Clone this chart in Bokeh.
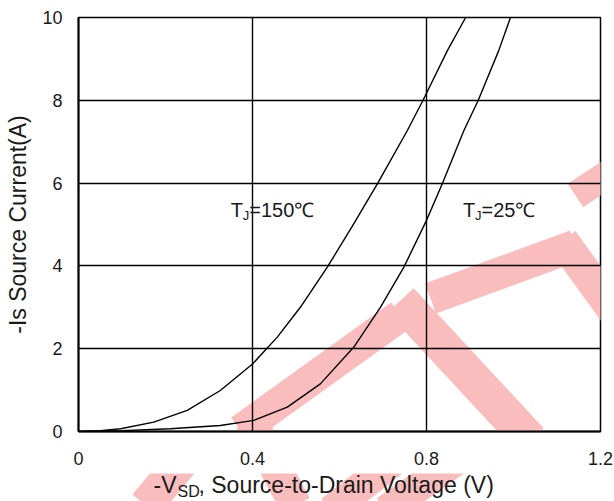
import math
from bokeh.plotting import figure
from bokeh.layouts import column
from bokeh.models import Range1d, FixedTicker, Label, PolyAnnotation
from bokeh.core.properties import value
from bokeh.embed import file_html
from bokeh.resources import INLINE

# ---- data ----
V_150 = [0, 0.05, 0.097, 0.173, 0.25, 0.326, 0.40, 0.457, 0.51, 0.572, 0.633, 0.687, 0.756, 0.792, 0.848, 0.89]
I_150 = [0, 0.02, 0.065, 0.225, 0.51, 0.99, 1.63, 2.28, 3.0, 3.97, 5.02, 5.98, 7.27, 8.0, 9.2, 10.0]

V_25 = [0, 0.10, 0.211, 0.326, 0.403, 0.48, 0.556, 0.633, 0.694, 0.748, 0.80, 0.836, 0.886, 0.919, 0.966, 0.993]
I_25 = [0, 0.02, 0.065, 0.145, 0.27, 0.59, 1.15, 2.04, 3.0, 3.97, 5.1, 5.98, 7.27, 8.0, 9.2, 10.0]

X_TICKS = [0, 0.4, 0.8, 1.2]
X_TICK_LABELS = ["0", "0.4", "0.8", "1.2"]
Y_TICKS = [0, 2, 4, 6, 8, 10]
Y_TICK_LABELS = ["0", "2", "4", "6", "8", "10"]

X_LABEL_PARTS = ["-V", "SD", " , Source-to-Drain Voltage (V)"]
Y_LABEL = "-Is Source Current(A)"

CURVE_LABEL_MAIN = ["T", "T"]
CURVE_LABEL_SUB = ["J", "J"]
CURVE_LABEL_REST = ["=150\u2103", "=25\u2103"]
CURVE_LABEL_X = [0.350, 0.884]
CURVE_LABEL_Y = [5.34, 5.34]

# watermark strokes (page pixels: x0, y0, x1, y1, width)
WATERMARK = [
    (145, 505, 195, 445, 34),
    (250, 420, 295, 505, 32),
    (240, 430, 400, 315, 32),
    (330, 510, 392, 462, 30),
    (385, 510, 470, 450, 30),
    (400, 300, 530, 440, 36),
    (430, 298, 575, 245, 32),
    (562, 240, 620, 320, 32),
    (575, 195, 620, 165, 28),
]

FONT = "Liberation Sans"
TEXT_COLOR = "#1a1a1a"
PINK = "#f9bdbd"
TOP_H = 473
BOTTOM_H = 28

p = figure(width=614, height=TOP_H, output_backend="svg", toolbar_location=None,
           x_range=Range1d(0, 1.2), y_range=Range1d(0, 10), title=None,
           min_border_left=78, min_border_right=14, min_border_top=17,
           min_border_bottom=42)
p.frame_align = False
p.background_fill_color = "white"
p.border_fill_color = "white"
p.outline_line_color = "black"
p.outline_line_width = 1.5
p.outline_line_alpha = 1.0


def band(x0, y0, x1, y1, w):
    dx, dy = x1 - x0, y1 - y0
    L = math.hypot(dx, dy)
    nx, ny = -dy / L * w / 2, dx / L * w / 2
    return [x0 + nx, x1 + nx, x1 - nx, x0 - nx], [y0 + ny, y1 + ny, y1 - ny, y0 - ny]


bands = [band(*s) for s in WATERMARK]
for xs, ys in bands:
    p.add_layout(PolyAnnotation(xs=xs, ys=ys, xs_units="canvas", ys_units="canvas",
                                fill_color=PINK, fill_alpha=1.0, line_alpha=0,
                                level="image"))

# grid
p.xgrid.ticker = FixedTicker(ticks=X_TICKS)
p.ygrid.ticker = FixedTicker(ticks=Y_TICKS)
for g in (p.xgrid, p.ygrid):
    g.grid_line_color = "black"
    g.grid_line_width = 1.4
    g.grid_line_alpha = 1.0

# axes
p.xaxis.ticker = FixedTicker(ticks=X_TICKS)
p.yaxis.ticker = FixedTicker(ticks=Y_TICKS)
p.xaxis.major_label_overrides = {t: s for t, s in zip(X_TICKS, X_TICK_LABELS)}
p.yaxis.major_label_overrides = {t: s for t, s in zip(Y_TICKS, Y_TICK_LABELS)}
for ax in (p.xaxis, p.yaxis):
    ax.axis_line_color = "black"
    ax.axis_line_width = 2
    ax.major_tick_out = 0
    ax.major_tick_in = 0
    ax.minor_tick_out = 0
    ax.minor_tick_in = 0
    ax.major_label_text_font = FONT
    ax.major_label_text_font_size = "18px"
    ax.major_label_text_color = TEXT_COLOR
p.xaxis.major_label_standoff = 20
p.yaxis.major_label_standoff = 16
p.xaxis.axis_label = None
p.yaxis.axis_label = Y_LABEL
p.yaxis.axis_label_text_font = FONT
p.yaxis.axis_label_text_font_size = "23px"
p.yaxis.axis_label_text_font_style = "normal"
p.yaxis.axis_label_text_color = TEXT_COLOR
p.yaxis.axis_label_standoff = 8

# curves
p.line(V_150, I_150, line_color="black", line_width=1.4)
p.line(V_25, I_25, line_color="black", line_width=1.4)

# curve labels
for main, sub, rest, lx, ly in zip(CURVE_LABEL_MAIN, CURVE_LABEL_SUB, CURVE_LABEL_REST,
                                   CURVE_LABEL_X, CURVE_LABEL_Y):
    p.add_layout(Label(x=lx, y=ly, text=main, text_font=FONT, text_font_size="20px",
                       text_color=TEXT_COLOR, text_baseline="middle", text_align="left"))
    p.add_layout(Label(x=lx, y=ly, x_offset=12, y_offset=-5, text=sub, text_font=FONT,
                       text_font_size="13px", text_color=TEXT_COLOR,
                       text_baseline="middle", text_align="left"))
    p.add_layout(Label(x=lx, y=ly, x_offset=18.5, text=rest, text_font=FONT,
                       text_font_size="20px", text_color=TEXT_COLOR,
                       text_baseline="middle", text_align="left"))

# bottom strip: x-axis title with subscript (and the watermark continuing below)
p2 = figure(width=614, height=BOTTOM_H, output_backend="svg", toolbar_location=None,
            x_range=Range1d(0, 614), y_range=Range1d(BOTTOM_H, 0), title=None,
            x_axis_type=None, y_axis_type=None, min_border=0,
            min_border_left=0, min_border_right=0, min_border_top=0, min_border_bottom=0)
p2.frame_align = False
p2.grid.visible = False
p2.outline_line_color = None
p2.background_fill_color = "white"
p2.border_fill_color = "white"
p2.patches([xs for xs, ys in bands], [[y - TOP_H for y in ys] for xs, ys in bands],
           fill_color=PINK, line_alpha=0)
p2.text(x=[153], y=[484 - TOP_H], text=[X_LABEL_PARTS[0]], text_font=value(FONT),
        text_font_size=value("23px"), text_color=TEXT_COLOR, text_baseline="middle")
p2.text(x=[177], y=[490.5 - TOP_H], text=[X_LABEL_PARTS[1]], text_font=value(FONT),
        text_font_size=value("16px"), text_color=TEXT_COLOR, text_baseline="middle")
p2.text(x=[198], y=[484 - TOP_H], text=[X_LABEL_PARTS[2]], text_font=value(FONT),
        text_font_size=value("23px"), text_color=TEXT_COLOR, text_baseline="middle")

layout = column(p, p2, spacing=0)
open("out.html", "w").write(file_html(layout, INLINE))
